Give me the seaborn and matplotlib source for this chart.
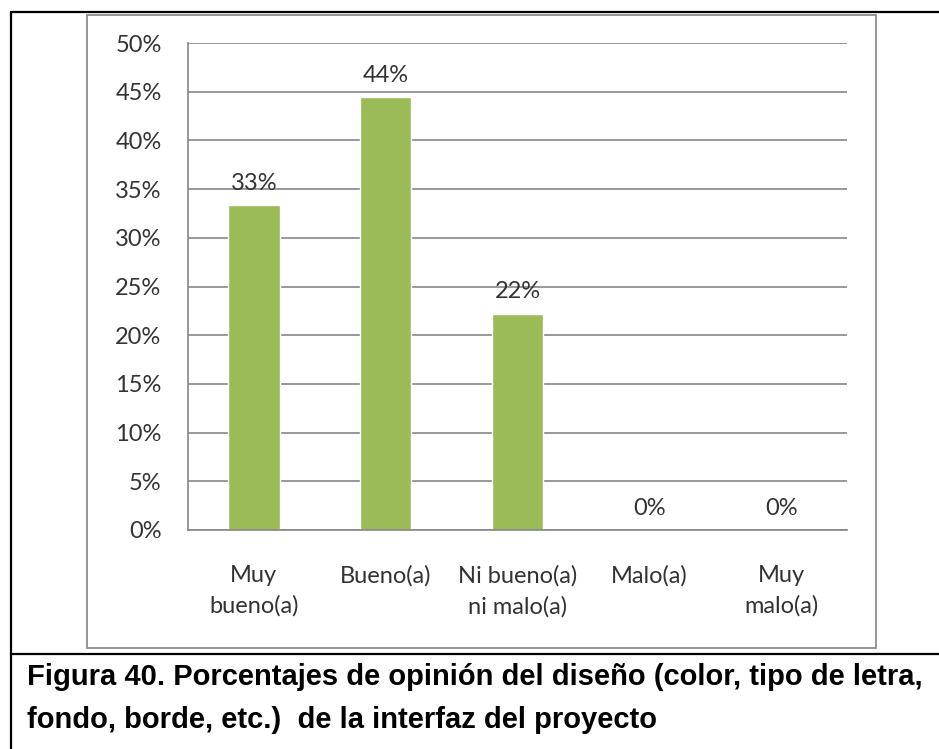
import matplotlib
matplotlib.use("Agg")
import matplotlib.pyplot as plt
import seaborn as sns
import pandas as pd
from matplotlib.lines import Line2D
from matplotlib.patches import Rectangle
from matplotlib.ticker import FixedLocator

categories = ["Muy\nbueno(a)", "Bueno(a)", "Ni bueno(a)\nni malo(a)", "Malo(a)", "Muy\nmalo(a)"]
values = [33.33, 44.44, 22.22, 0.0, 0.0]
value_labels = ["33%", "44%", "22%", "0%", "0%"]
y_ticks = [0, 5, 10, 15, 20, 25, 30, 35, 40, 45, 50]
y_tick_labels = ["0%", "5%", "10%", "15%", "20%", "25%", "30%", "35%", "40%", "45%", "50%"]
caption_lines = ["Figura 40. Porcentajes de opinión del diseño (color, tipo de letra,",
                 "fondo, borde, etc.)  de la interfaz del proyecto"]

sns.set_style("white")
plt.rcParams["font.family"] = ["Lato", "DejaVu Sans"]

W, H = 939, 749
fig = plt.figure(figsize=(W / 100, H / 100), dpi=100)
fig.patch.set_facecolor("white")

def fx(x):
    return x / W

def fy(y):
    return 1 - y / H

# outer frame (black) and chart border (gray)
blk = "#000000"
fig.add_artist(Line2D([fx(11), 1], [fy(12), fy(12)], color=blk, lw=1.6, transform=fig.transFigure))
fig.add_artist(Line2D([fx(11), fx(11)], [fy(12), 0], color=blk, lw=1.6, transform=fig.transFigure))
fig.add_artist(Line2D([fx(11), 1], [fy(654), fy(654)], color=blk, lw=1.6, transform=fig.transFigure))
fig.add_artist(Rectangle((fx(87), fy(648)), fx(876) - fx(87), fy(15) - fy(648),
                         fill=False, edgecolor="#8c8c8c", lw=1.3, transform=fig.transFigure))

left, right, top, bottom = 188, 847, 43, 530
ax = fig.add_axes([fx(left), fy(bottom), fx(right) - fx(left), fy(top) - fy(bottom)])

df = pd.DataFrame({"cat": categories, "val": values})
sns.barplot(data=df, x="cat", y="val", color="#9BBB59", width=0.39, saturation=1, ax=ax)

ax.set_xlim(-0.5, 4.5)
ax.set_ylim(0, 50)
ax.set_xlabel("")
ax.set_ylabel("")

gray = "#868686"
txt = "#333333"
fs = 17
ax.set_yticks(y_ticks)
ax.set_yticklabels(y_tick_labels, fontsize=fs, color=txt)
ax.yaxis.grid(True, color=gray, lw=1.2)
ax.set_axisbelow(True)
ax.tick_params(axis="y", length=7, width=1.2, color=gray, pad=12)

ax.set_xticks(range(len(categories)))
ax.set_xticklabels(categories, fontsize=fs, color=txt, linespacing=1.55, va="top")
ax.tick_params(axis="x", which="major", length=0, pad=25)
ax.xaxis.set_minor_locator(FixedLocator([i - 0.5 for i in range(len(categories) + 1)]))
ax.tick_params(axis="x", which="minor", length=6, width=1.2, color=gray, direction="out")

for s in ["top", "right"]:
    ax.spines[s].set_visible(False)
for s in ["left", "bottom"]:
    ax.spines[s].set_color(gray)
    ax.spines[s].set_linewidth(1.2)

for i, (v, lab) in enumerate(zip(values, value_labels)):
    ax.annotate(lab, (i, v), xytext=(0, 8), textcoords="offset points",
                ha="center", va="bottom", fontsize=fs, color=txt)

fig.text(fx(27), fy(677), caption_lines[0], fontsize=21, fontweight="bold",
         family="Liberation Sans", va="center", ha="left", color="#000000")
fig.text(fx(27), fy(720), caption_lines[1], fontsize=21, fontweight="bold",
         family="Liberation Sans", va="center", ha="left", color="#000000")

fig.savefig("out.png", dpi=100)
